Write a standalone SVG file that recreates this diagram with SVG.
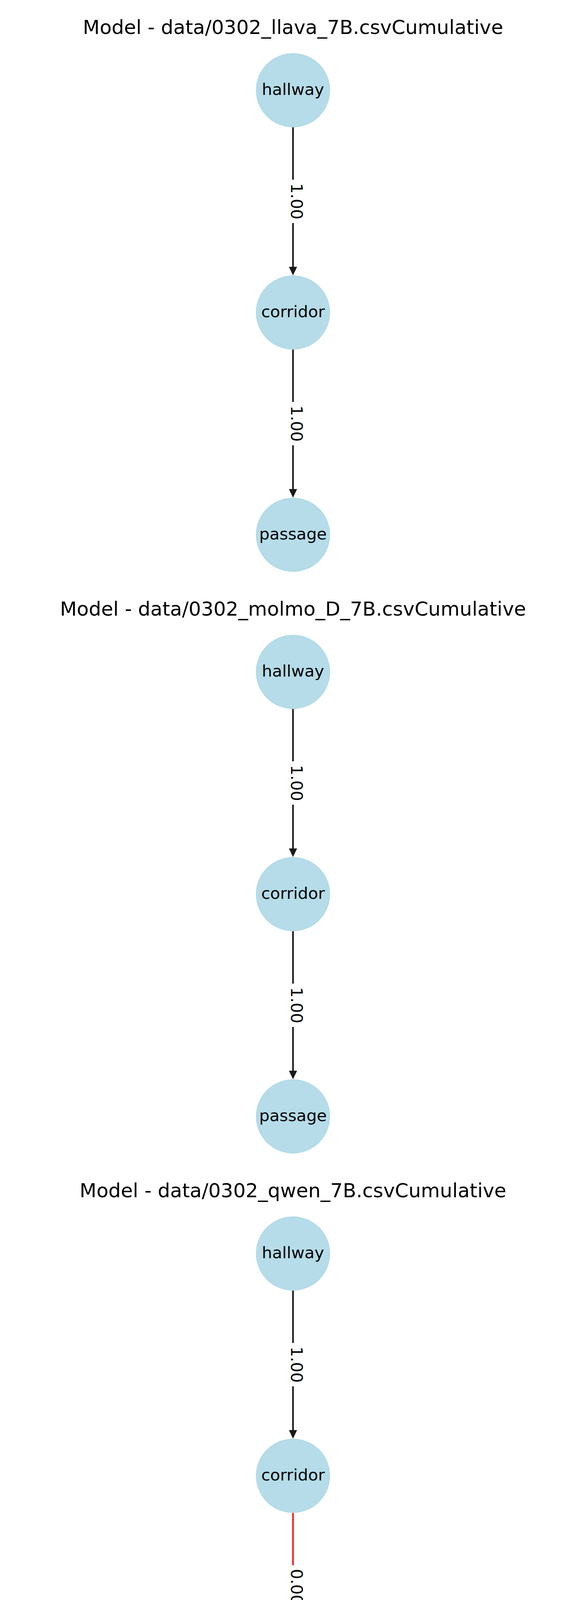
<svg xmlns="http://www.w3.org/2000/svg" width="1500" height="6000" viewBox="0 0 1500 6000">
<defs>
<style>
.bg{fill:#ffffff}
.title{font-family:"DejaVu Sans","Liberation Sans",sans-serif;font-size:50px;fill:#000;text-anchor:middle}
.node circle{fill:#ADD8E6;fill-opacity:0.9;stroke:#ADD8E6;stroke-opacity:0.9;stroke-width:2}
.node text{font-family:"DejaVu Sans","Liberation Sans",sans-serif;font-size:41.67px;fill:#000;text-anchor:middle}
.edge{stroke-width:4.17;stroke-opacity:0.9;fill:none;stroke-linecap:butt}
.ek{stroke:#000;marker-end:url(#ah-k)}
.er{stroke:#FF0000;marker-end:url(#ah-r)}
.lblbox{fill:#fff}
.lbl{font-family:"DejaVu Sans","Liberation Sans",sans-serif;font-size:41.67px;fill:#000;text-anchor:middle}
</style>
<marker id="ah-k" markerUnits="userSpaceOnUse" markerWidth="22" markerHeight="21" refX="0" refY="10.5" orient="auto" viewBox="0 0 22 21"><path d="M0,0 L22,10.5 L0,21 z" fill="#000" fill-opacity="0.9"/></marker>
<marker id="ah-r" markerUnits="userSpaceOnUse" markerWidth="22" markerHeight="21" refX="0" refY="10.5" orient="auto" viewBox="0 0 22 21"><path d="M0,0 L22,10.5 L0,21 z" fill="#FF0000" fill-opacity="0.9"/></marker>
</defs>
<rect class="bg" x="0" y="0" width="1500" height="6000"/>

<!-- Panel 1 -->
<g id="panel1" transform="translate(0,0)">
<text class="title" x="750" y="87">Model - data/0302_llava_7B.csvCumulative</text>
<g id="p1-connectors">
<line class="edge ek" x1="750" y1="326" x2="750" y2="683"/>
<rect class="lblbox" x="725" y="460" width="50" height="111"/>
<text class="lbl" transform="translate(750,515.5) rotate(90)" x="0" y="5">1.00</text>
<line class="edge ek" x1="750" y1="895" x2="750" y2="1252"/>
<rect class="lblbox" x="725" y="1029" width="50" height="111"/>
<text class="lbl" transform="translate(750,1084.5) rotate(90)" x="0" y="5">1.00</text>
</g>
<g id="p1-hallway" class="node"><circle cx="750" cy="231" r="94"/><text x="750" y="243">hallway</text></g>
<g id="p1-corridor" class="node"><circle cx="750" cy="800" r="94"/><text x="750" y="812">corridor</text></g>
<g id="p1-passage" class="node"><circle cx="750" cy="1369" r="94"/><text x="750" y="1381">passage</text></g>
</g>

<!-- Panel 2 -->
<g id="panel2" transform="translate(0,1489)">
<text class="title" x="750" y="87">Model - data/0302_molmo_D_7B.csvCumulative</text>
<g id="p2-connectors">
<line class="edge ek" x1="750" y1="326" x2="750" y2="683"/>
<rect class="lblbox" x="725" y="460" width="50" height="111"/>
<text class="lbl" transform="translate(750,515.5) rotate(90)" x="0" y="5">1.00</text>
<line class="edge ek" x1="750" y1="895" x2="750" y2="1252"/>
<rect class="lblbox" x="725" y="1029" width="50" height="111"/>
<text class="lbl" transform="translate(750,1084.5) rotate(90)" x="0" y="5">1.00</text>
</g>
<g id="p2-hallway" class="node"><circle cx="750" cy="231" r="94"/><text x="750" y="243">hallway</text></g>
<g id="p2-corridor" class="node"><circle cx="750" cy="800" r="94"/><text x="750" y="812">corridor</text></g>
<g id="p2-passage" class="node"><circle cx="750" cy="1369" r="94"/><text x="750" y="1381">passage</text></g>
</g>

<!-- Panel 3 -->
<g id="panel3" transform="translate(0,2978)">
<text class="title" x="750" y="87">Model - data/0302_qwen_7B.csvCumulative</text>
<g id="p3-connectors">
<line class="edge ek" x1="750" y1="326" x2="750" y2="683"/>
<rect class="lblbox" x="725" y="460" width="50" height="111"/>
<text class="lbl" transform="translate(750,515.5) rotate(90)" x="0" y="5">1.00</text>
<line class="edge er" x1="750" y1="895" x2="750" y2="1252"/>
<rect class="lblbox" x="725" y="1029" width="50" height="111"/>
<text class="lbl" transform="translate(750,1084.5) rotate(90)" x="0" y="5">0.00</text>
</g>
<g id="p3-hallway" class="node"><circle cx="750" cy="231" r="94"/><text x="750" y="243">hallway</text></g>
<g id="p3-corridor" class="node"><circle cx="750" cy="800" r="94"/><text x="750" y="812">corridor</text></g>
<g id="p3-passage" class="node"><circle cx="750" cy="1369" r="94"/><text x="750" y="1381">passage</text></g>
</g>

<!-- Panel 4 -->
<g id="panel4" transform="translate(0,4467)">
<text class="title" x="750" y="87">Model - data/0306_mllama_11B.csvCumulative</text>
<g id="p4-connectors">
<line class="edge ek" x1="750" y1="326" x2="750" y2="683"/>
<rect class="lblbox" x="725" y="460" width="50" height="111"/>
<text class="lbl" transform="translate(750,515.5) rotate(90)" x="0" y="5">1.00</text>
<line class="edge er" x1="750" y1="895" x2="750" y2="1252"/>
<rect class="lblbox" x="725" y="1029" width="50" height="111"/>
<text class="lbl" transform="translate(750,1084.5) rotate(90)" x="0" y="5">0.00</text>
</g>
<g id="p4-hallway" class="node"><circle cx="750" cy="231" r="94"/><text x="750" y="243">hallway</text></g>
<g id="p4-corridor" class="node"><circle cx="750" cy="800" r="94"/><text x="750" y="812">corridor</text></g>
<g id="p4-passage" class="node"><circle cx="750" cy="1369" r="94"/><text x="750" y="1381">passage</text></g>
</g>
</svg>
